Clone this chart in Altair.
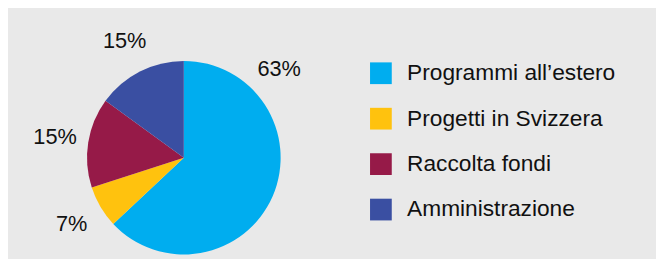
import math
import altair as alt
import pandas as pd

categories = ["Programmi all’estero", "Progetti in Svizzera", "Raccolta fondi", "Amministrazione"]
values = [63, 7, 15, 15]
labels = ["63%", "7%", "15%", "15%"]
colors = ["#00ADEF", "#FFC20E", "#961A48", "#3A4FA2"]

df = pd.DataFrame({
    "category": categories,
    "value": values,
    "label": labels,
    "order": list(range(len(categories))),
})
total = df["value"].sum()
cum = df["value"].cumsum()
df["label_theta"] = (cum - df["value"] / 2) / total * 2 * math.pi
# the large slice's label sits near its upper-right part, as in the original
df.loc[0, "label_theta"] = 47 / 360 * 2 * math.pi

CX, CY, R = 178, 150, 98
FONT = "Liberation Sans"

arcs = alt.Chart(df).mark_arc(outerRadius=R).encode(
    theta=alt.Theta("value:Q", stack=True),
    color=alt.Color(
        "category:N",
        scale=alt.Scale(domain=categories, range=colors),
        legend=alt.Legend(
            title=None,
            orient="none",
            legendX=366,
            legendY=53,
            symbolType="square",
            symbolSize=484,
            symbolStrokeWidth=0,
            labelFont=FONT,
            labelFontSize=23,
            labelColor="#111111",
            labelOffset=15,
            rowPadding=22,
            padding=0,
            labelLimit=400,
        ),
    ),
    order=alt.Order("order:Q"),
    x=alt.value(CX),
    y=alt.value(CY),
)

text = alt.Chart(df).mark_text(
    font=FONT, fontSize=22, color="#111111", align="center", baseline="middle"
).encode(
    theta=alt.Theta("label_theta:Q", scale=None),
    radius=alt.value(132),
    text="label:N",
    x=alt.value(CX),
    y=alt.value(CY),
)

chart = alt.layer(arcs, text).resolve_scale(theta="independent").properties(
    width=656,
    height=251,
    background="#E9E9E9",
    padding=0,
    autosize="none",
).configure_view(stroke=None)

chart.save("out.html", embed_options={"renderer": "svg", "actions": False})
